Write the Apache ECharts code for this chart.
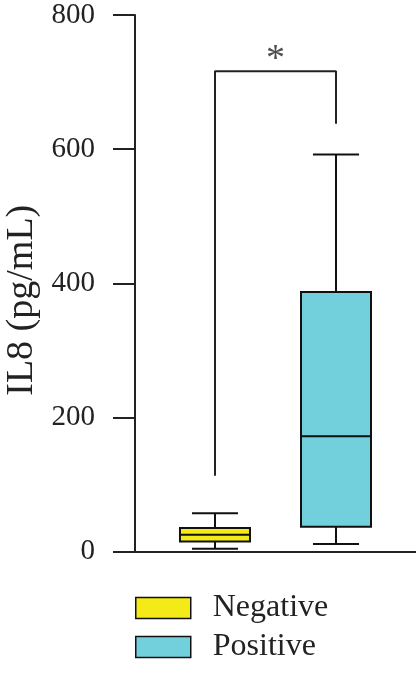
<!DOCTYPE html>
<html>
<head>
<meta charset="utf-8">
<script src="https://cdn.jsdelivr.net/npm/echarts@6/dist/echarts.min.js"></script>
<style>html,body{margin:0;padding:0;background:#fff}#c{width:416px;height:675px}</style>
</head>
<body>
<div id="c"></div>
<script>
const categories = ['Negative', 'Positive'];
// [min, Q1, median, Q3, max]
const negativeStats = [4, 15, 25, 35, 57];
const positiveStats = [11, 37, 172, 387, 592];
const yTicks = [0, 200, 400, 600, 800];
const bracket = [[0, 113], [0, 716], [1, 716], [1, 638]];
const starPoint = [[0.5, 733]];
const colors = ['#f4ea17', '#72cfdc'];

const FONT = 'Liberation Serif';
const chart = echarts.init(document.getElementById('c'));

function renderBox(params, api) {
  const x = api.value(0);
  const p = (v) => api.coord([x, v]);
  const pMin = p(api.value(1)), pQ1 = p(api.value(2)), pMed = p(api.value(3)),
        pQ3 = p(api.value(4)), pMax = p(api.value(5));
  const cx = pMin[0], bw = 70, cw = 46;
  const ls = { stroke: '#111', lineWidth: 2 };
  return {
    type: 'group',
    children: [
      { type: 'line', shape: { x1: cx, y1: pMax[1], x2: cx, y2: pQ3[1] }, style: ls },
      { type: 'line', shape: { x1: cx, y1: pQ1[1], x2: cx, y2: pMin[1] }, style: ls },
      { type: 'line', shape: { x1: cx - cw / 2, y1: pMax[1], x2: cx + cw / 2, y2: pMax[1] }, style: ls },
      { type: 'line', shape: { x1: cx - cw / 2, y1: pMin[1], x2: cx + cw / 2, y2: pMin[1] }, style: ls },
      { type: 'rect', shape: { x: cx - bw / 2, y: pQ3[1], width: bw, height: pQ1[1] - pQ3[1] },
        style: { fill: api.visual('color'), stroke: '#111', lineWidth: 2 } },
      { type: 'line', shape: { x1: cx - bw / 2, y1: pMed[1], x2: cx + bw / 2, y2: pMed[1] }, style: ls }
    ]
  };
}

const legendBase = {
  orient: 'vertical', left: 135, padding: 0,
  itemWidth: 55, itemHeight: 21, icon: 'rect',
  itemStyle: { borderColor: '#111', borderWidth: 1.5 },
  textStyle: { fontFamily: FONT, fontSize: 32, color: '#222', padding: [0, 0, 0, 17] }
};

chart.setOption({
  animation: false,
  backgroundColor: '#fff',
  grid: { left: 135, right: 0, top: 15, bottom: 123.5, containLabel: false, outerBoundsMode: 'none' },
  xAxis: {
    type: 'value', min: -0.661, max: 1.661,
    axisLine: { show: true, onZero: false, lineStyle: { color: '#222', width: 2 } },
    axisTick: { show: false }, axisLabel: { show: false }, splitLine: { show: false }
  },
  yAxis: {
    type: 'value', min: yTicks[0], max: yTicks[yTicks.length - 1], interval: 200,
    name: 'IL8 (pg/mL)', nameLocation: 'middle', nameRotate: 90, nameGap: 91,
    nameTextStyle: { fontFamily: FONT, fontSize: 38, color: '#222', padding: [0, 34, 0, 0] },
    axisLine: { show: true, onZero: false, lineStyle: { color: '#222', width: 2 } },
    axisTick: { show: true, length: 22, lineStyle: { color: '#222', width: 2 } },
    axisLabel: { margin: 40, fontFamily: FONT, fontSize: 29, color: '#222', padding: [6, 0, 0, 0] },
    splitLine: { show: false }
  },
  legend: [
    Object.assign({}, legendBase, { top: 592, data: [categories[0]] }),
    Object.assign({}, legendBase, { top: 631, data: [categories[1]] })
  ],
  series: [
    { name: categories[0], type: 'custom', renderItem: renderBox, itemStyle: { color: colors[0] },
      data: [[0, ...negativeStats]], encode: { x: 0, y: [1, 2, 3, 4, 5] } },
    { name: categories[1], type: 'custom', renderItem: renderBox, itemStyle: { color: colors[1] },
      data: [[1, ...positiveStats]], encode: { x: 0, y: [1, 2, 3, 4, 5] } },
    { type: 'line', data: bracket, symbol: 'none', lineStyle: { color: '#222', width: 2 }, silent: true },
    { type: 'scatter', data: starPoint, symbolSize: 0, silent: true,
      label: { show: true, formatter: '*', position: 'inside', fontFamily: FONT, fontSize: 38, color: '#222' } }
  ]
});
</script>
</body>
</html>
